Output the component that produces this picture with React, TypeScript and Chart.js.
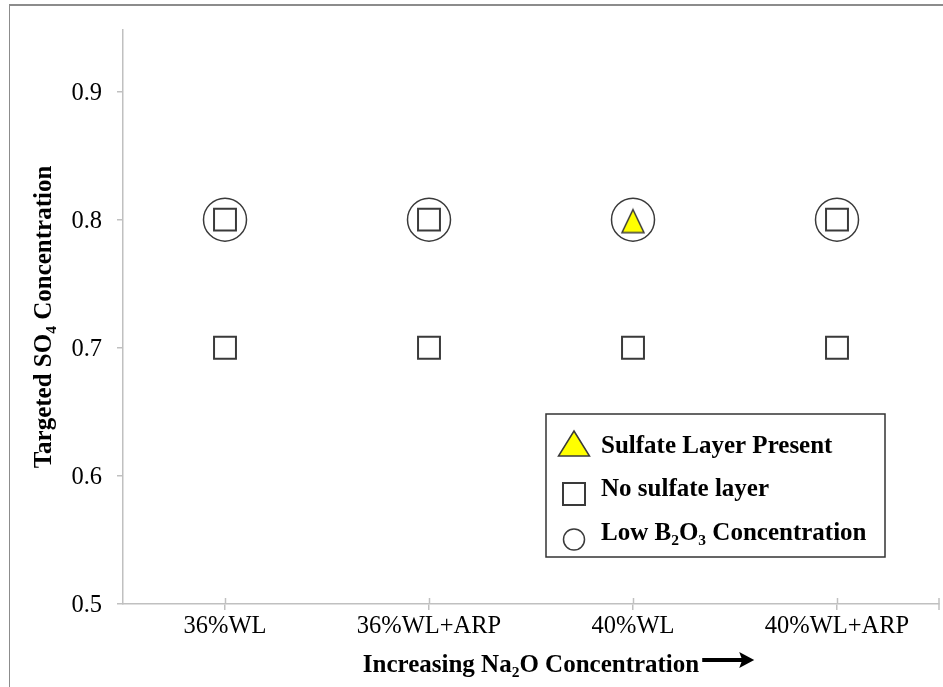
import React, { useEffect, useRef } from 'react';
import { Chart, registerables } from 'chart.js';

Chart.register(...registerables);

// ---------- data ----------
const categories = ['36%WL', '36%WL+ARP', '40%WL', '40%WL+ARP'];
const yTickValues = [0.5, 0.6, 0.7, 0.8, 0.9];
const yMin = 0.5;
const yMax = 0.948;

const sulfatePresentX = ['40%WL'];
const sulfatePresentY = [0.8];

const noSulfateX = ['36%WL', '36%WL', '36%WL+ARP', '36%WL+ARP', '40%WL', '40%WL+ARP', '40%WL+ARP'];
const noSulfateY = [0.8, 0.7, 0.8, 0.7, 0.7, 0.8, 0.7];

const lowB2O3X = ['36%WL', '36%WL+ARP', '40%WL', '40%WL+ARP'];
const lowB2O3Y = [0.8, 0.8, 0.8, 0.8];

type Part = { t: string; sub?: boolean };
const yTitleParts: Part[] = [{ t: 'Targeted SO' }, { t: '4', sub: true }, { t: ' Concentration' }];
const xTitleParts: Part[] = [{ t: 'Increasing Na' }, { t: '2', sub: true }, { t: 'O Concentration' }];
const legendSulfate: Part[] = [{ t: 'Sulfate Layer Present' }];
const legendNoSulfate: Part[] = [{ t: 'No sulfate layer' }];
const legendLowB: Part[] = [{ t: 'Low B' }, { t: '2', sub: true }, { t: 'O' }, { t: '3', sub: true }, { t: ' Concentration' }];

// ---------- styling ----------
const FAMILY = '"Liberation Serif", "Times New Roman", serif';
const AXIS_COLOR = '#c0c0c0';
const MARK_STROKE = '#3a3a3a';
const YELLOW = '#ffff00';

function setFont(ctx: CanvasRenderingContext2D, size: number, sub: boolean) {
  ctx.font = `bold ${sub ? size * 0.62 : size}px ${FAMILY}`;
}
function richWidth(ctx: CanvasRenderingContext2D, parts: Part[], size: number) {
  let w = 0;
  for (const p of parts) {
    setFont(ctx, size, !!p.sub);
    w += ctx.measureText(p.t).width;
  }
  return w;
}
function drawRich(ctx: CanvasRenderingContext2D, parts: Part[], x: number, y: number, size: number) {
  let cx = x;
  ctx.textAlign = 'left';
  ctx.textBaseline = 'alphabetic';
  for (const p of parts) {
    setFont(ctx, size, !!p.sub);
    ctx.fillText(p.t, cx, p.sub ? y + size * 0.2 : y);
    cx += ctx.measureText(p.t).width;
  }
  return cx;
}

function makeTriangle() {
  const c = document.createElement('canvas');
  c.width = 26;
  c.height = 30;
  const g = c.getContext('2d')!;
  g.beginPath();
  g.moveTo(13, 5);
  g.lineTo(24, 28);
  g.lineTo(2, 28);
  g.closePath();
  g.fillStyle = YELLOW;
  g.fill();
  g.lineWidth = 1.5;
  g.strokeStyle = MARK_STROKE;
  g.stroke();
  return c;
}

const extrasPlugin = {
  id: 'extras',
  afterDraw(chart: any) {
    const ctx: CanvasRenderingContext2D = chart.ctx;
    const a = chart.chartArea;
    const xs = chart.scales.x;
    ctx.save();

    // crossing x tick marks (inner half) and the end tick
    ctx.strokeStyle = AXIS_COLOR;
    ctx.lineWidth = 1.5;
    categories.forEach((_, i) => {
      const px = Math.round(xs.getPixelForValue(i)) + 0.5;
      ctx.beginPath();
      ctx.moveTo(px, a.bottom - 6);
      ctx.lineTo(px, a.bottom);
      ctx.stroke();
    });
    ctx.beginPath();
    ctx.moveTo(a.right, a.bottom - 6);
    ctx.lineTo(a.right, a.bottom + 6);
    ctx.stroke();

    ctx.fillStyle = '#000';
    const TS = 25;

    // y title
    ctx.save();
    ctx.translate(51, (a.top + a.bottom) / 2);
    ctx.rotate(-Math.PI / 2);
    const yw = richWidth(ctx, yTitleParts, TS);
    drawRich(ctx, yTitleParts, -yw / 2, 0, TS);
    ctx.restore();

    // x title + arrow
    const xw = richWidth(ctx, xTitleParts, TS);
    const x0 = (a.left + a.right) / 2 - xw / 2;
    const xEnd = drawRich(ctx, xTitleParts, x0, 672, TS);
    const ay = 660;
    const as = xEnd + 3;
    ctx.fillRect(as, ay - 2, 42, 4);
    ctx.beginPath();
    ctx.moveTo(as + 37, ay - 8);
    ctx.lineTo(as + 52, ay);
    ctx.lineTo(as + 37, ay + 8);
    ctx.lineTo(as + 40, ay);
    ctx.closePath();
    ctx.fill();

    // legend box
    const bx = a.left + 423;
    const by = a.top + 384;
    const bw = 339;
    const bh = 143;
    ctx.fillStyle = '#fff';
    ctx.fillRect(bx, by, bw, bh);
    ctx.strokeStyle = '#333';
    ctx.lineWidth = 1.5;
    ctx.strokeRect(bx, by, bw, bh);

    const mx = bx + 28;
    const tx = bx + 55;
    // triangle
    ctx.beginPath();
    ctx.moveTo(mx, by + 17);
    ctx.lineTo(mx + 15.5, by + 42);
    ctx.lineTo(mx - 15.5, by + 42);
    ctx.closePath();
    ctx.fillStyle = YELLOW;
    ctx.fill();
    ctx.strokeStyle = MARK_STROKE;
    ctx.lineWidth = 1.5;
    ctx.stroke();
    // square
    ctx.fillStyle = '#fff';
    ctx.lineWidth = 2;
    ctx.fillRect(mx - 11, by + 69, 22, 22);
    ctx.strokeRect(mx - 11, by + 69, 22, 22);
    // circle
    ctx.lineWidth = 1.5;
    ctx.beginPath();
    ctx.arc(mx, by + 125.5, 10.5, 0, Math.PI * 2);
    ctx.fill();
    ctx.stroke();

    ctx.fillStyle = '#000';
    drawRich(ctx, legendSulfate, tx, by + 39, TS);
    drawRich(ctx, legendNoSulfate, tx, by + 82, TS);
    drawRich(ctx, legendLowB, tx, by + 126, TS);

    ctx.restore();
  },
};

export default function App() {
  const ref = useRef<HTMLCanvasElement | null>(null);

  useEffect(() => {
    const canvas = ref.current;
    if (!canvas) return;
    const tri = makeTriangle();
    const chart = new Chart(canvas, {
      type: 'scatter',
      data: {
        labels: categories,
        datasets: [
          {
            label: 'Low B2O3 Concentration',
            data: lowB2O3X.map((x, i) => ({ x, y: lowB2O3Y[i] })) as any,
            pointStyle: 'circle',
            pointRadius: 21.5,
            pointHoverRadius: 21.5,
            backgroundColor: 'rgba(255,255,255,0)',
            borderColor: MARK_STROKE,
            borderWidth: 1.5,
            order: 3,
          },
          {
            label: 'No sulfate layer',
            data: noSulfateX.map((x, i) => ({ x, y: noSulfateY[i] })) as any,
            pointStyle: 'rect',
            pointRadius: 15.5,
            pointHoverRadius: 15.5,
            backgroundColor: '#ffffff',
            borderColor: MARK_STROKE,
            borderWidth: 2,
            order: 2,
          },
          {
            label: 'Sulfate Layer Present',
            data: sulfatePresentX.map((x, i) => ({ x, y: sulfatePresentY[i] })) as any,
            pointStyle: tri as any,
            pointRadius: 12,
            pointHoverRadius: 12,
            backgroundColor: YELLOW,
            borderColor: MARK_STROKE,
            order: 1,
          },
        ],
      },
      options: {
        responsive: false,
        animation: false,
        events: [],
        layout: { autoPadding: false, padding: { top: 30, right: 4, left: 0, bottom: 0 } },
        plugins: {
          legend: { display: false },
          tooltip: { enabled: false },
        },
        scales: {
          x: {
            type: 'category',
            labels: categories,
            offset: true,
            grid: {
              offset: false,
              drawOnChartArea: false,
              drawTicks: true,
              tickLength: 6,
              color: AXIS_COLOR,
              lineWidth: 1.5,
            },
            border: { color: AXIS_COLOR, width: 1.5 },
            ticks: {
              color: '#000',
              font: { family: FAMILY, size: 24.5 },
              padding: 2,
              maxRotation: 0,
              autoSkip: false,
            },
            afterFit: (s: any) => {
              s.height = 83;
              s.paddingLeft = 0;
              s.paddingRight = 0;
            },
          },
          y: {
            type: 'linear',
            min: yMin,
            max: yMax,
            afterBuildTicks: (s: any) => {
              s.ticks = yTickValues.map((v) => ({ value: v }));
            },
            grid: {
              drawOnChartArea: false,
              drawTicks: true,
              tickLength: 6,
              color: AXIS_COLOR,
              lineWidth: 1.5,
            },
            border: { color: AXIS_COLOR, width: 1.5 },
            ticks: {
              color: '#000',
              font: { family: FAMILY, size: 24.5 },
              padding: 15,
              labelOffset: 2,
              callback: (v: any) => Number(v).toFixed(1),
            },
            afterFit: (s: any) => {
              s.width = 123;
              s.paddingTop = 0;
              s.paddingBottom = 0;
            },
          },
        },
      },
      plugins: [extrasPlugin],
    });
    return () => chart.destroy();
  }, []);

  return (
    <div style={{ position: 'absolute', left: 0, top: 0, width: 943, height: 687, overflow: 'hidden', background: '#fff' }}>
      <canvas ref={ref} width={943} height={687} style={{ position: 'absolute', left: 0, top: 0, width: 943, height: 687 }} />
      <div
        style={{
          position: 'absolute',
          left: 9,
          top: 4,
          width: 1000,
          height: 1000,
          borderLeft: '1px solid #8c8c8c',
          borderTop: '2px solid #8c8c8c',
          pointerEvents: 'none',
        }}
      />
    </div>
  );
}
